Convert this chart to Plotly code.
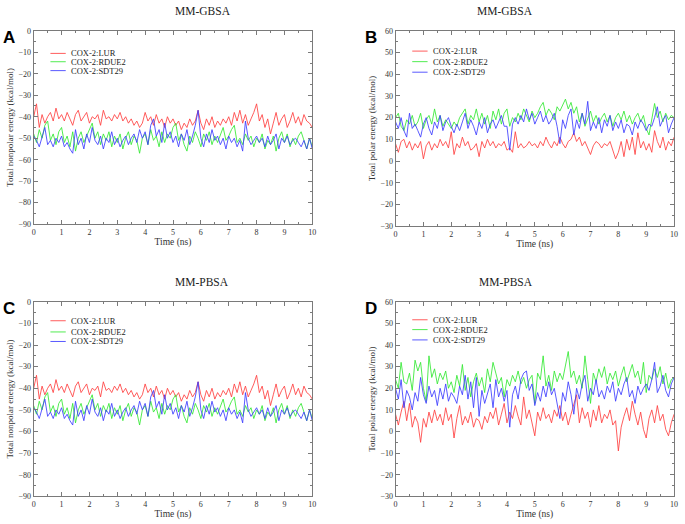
import numpy as np
import plotly.graph_objects as go

# time axis, ns (sampled every 0.1 ns)
time_ns = [round(i * 0.1, 1) for i in range(101)]

series_names = ["COX-2:LUR", "COX-2:RDUE2", "COX-2:SDT29"]
series_colors = ["#ff4040", "#33e833", "#3c3cff"]

# nonpolar energy (same for MM-GBSA and MM-PBSA)
nonpolar_lur = [-40, -34, -45, -39, -43, -40, -38, -42, -36, -41, -39, -42, -38, -41, -44, -39, -37, -42, -40, -38,
                -43, -40, -41, -39, -44, -37, -41, -40, -42, -39, -41, -38, -42, -40, -43, -41, -44, -42, -45, -43,
                -38, -42, -40, -44, -39, -43, -41, -45, -40, -43, -41, -44, -42, -46, -43, -45, -41, -44, -42, -37,
                -43, -46, -41, -44, -40, -45, -42, -44, -41, -43, -40, -44, -38, -42, -37, -43, -39, -44, -41, -38,
                -34, -42, -39, -45, -41, -48, -43, -38, -44, -41, -39, -45, -42, -38, -43, -40, -44, -39, -42, -43, -45]
nonpolar_rdue2 = [-48, -52, -46, -50, -44, -42, -51, -48, -53, -47, -45, -52, -49, -54, -47, -56, -50, -47, -52, -49,
                  -46, -43, -50, -47, -53, -48, -51, -47, -54, -49, -52, -48, -55, -50, -47, -53, -49, -51, -57, -50,
                  -48, -53, -46, -51, -49, -54, -47, -52, -48, -50, -45, -43, -51, -48, -53, -56, -49, -52, -47, -50,
                  -54, -48, -51, -47, -53, -49, -52, -48, -45, -51, -49, -46, -44, -52, -50, -53, -48, -51, -49, -54,
                  -50, -52, -48, -55, -51, -53, -49, -56, -50, -47, -52, -48, -54, -50, -53, -49, -47, -51, -55, -50, -54]
nonpolar_sdt29 = [-49, -51, -54, -50, -45, -53, -51, -54, -50, -52, -49, -54, -52, -55, -57, -46, -53, -50, -55, -48,
                  -52, -45, -51, -53, -49, -55, -50, -52, -47, -53, -50, -54, -51, -49, -53, -50, -48, -52, -46, -50,
                  -47, -53, -44, -41, -49, -46, -52, -43, -50, -47, -52, -49, -54, -48, -51, -46, -53, -49, -44, -37,
                  -50, -54, -48, -52, -46, -51, -49, -53, -50, -55, -49, -52, -50, -54, -51, -56, -42, -50, -53, -51,
                  -49, -52, -50, -54, -49, -53, -51, -48, -55, -50, -52, -49, -53, -51, -50, -52, -54, -51, -55, -50, -55]

# polar energy, MM-GBSA
gb_polar_lur = [8, 4, 9, 10, 6, 9, 5, 8, 6, 9, 1, 7, 9, 5, 8, 6, 10, 7, 9, 6,
                13.5, 3, 8, 6, 11, 7, 9, 5, 6, 8, 2, 9, 6, 10, 7, 9, 6, 8, 7, 9,
                5, 6, 4, 13.5, 6, 8, 6, 7, 9, 7, 8, 6, 9, 7, 11, 8, 6, 9, 7, 11,
                8, 6, 9, 10, 13, 9, 11, 7, 9, 6, 3, 7, 9, 8, 6, 8, 7, 9, 5, 1,
                4, 9, 2, 10, 5, 11, 3, 13, 6, 9, 5, 8, 4, 14, 9, 6, 11, 5, 9, 7, 11]
gb_polar_rdue2 = [20, 22, 16, 14, 19, 17, 21, 16, 18, 22, 15, 19, 21, 17, 24, 18, 21, 16, 19, 17,
                  15, 18, 16, 20, 22, 24, 17, 21, 19, 24, 18, 22, 17, 21, 15, 23, 19, 24, 17, 22,
                  24, 16, 20, 18, 22, 19, 24, 21, 18, 23, 20, 22, 25, 27, 21, 24, 22, 19, 25, 23,
                  26, 28.5, 24, 27, 22, 25, 18, 22, 16, 20, 23, 18, 21, 17, 20, 22, 18, 21, 16, 20,
                  22, 19, 23, 18, 21, 17, 20, 22, 18, 21, 15, 12, 19, 26.5, 20, 23, 18, 22, 19, 21, 20]
gb_polar_sdt29 = [18, 15, 20, 14, 11, 22, 15, 17, 14, 11, 17, 20, 15, 12, 18, 15, 21, 14, 18, 20,
                  16, 13, 17, 14, 18, 22, 15, 19, 16, 12, 18, 15, 20, 13, 17, 19, 15, 18, 21, 16,
                  16, 5, 17, 20, 17, 21, 18, 24, 19, 22, 17, 20, 23, 18, 21, 17, 19, 22, 16, 8,
                  19, 15, 21, 24, 12, 19, 15, 22, 17, 27.5, 14, 18, 15, 20, 13, 19, 16, 21, 14, 18,
                  15, 19, 13, 17, 16, 12, 18, 15, 19, 17, 14, 17, 16, 20, 25, 16, 19, 21, 13, 17, 20]

# polar energy, MM-PBSA
pb_polar_lur = [8, 3, 9, 14, 5, 13, 2, 7, 4, -5, 6, 2, 9, 4, 10, 5, 8, 3, 11, 5,
                8, -3, 6, 12, 3, 7, 4, 9, 2, 6, 5, 1, 7, 4, 9, 6, 11, 3, 8, 13,
                4, 9, 6, 12, 7, 3, 16, 6, 10, 4, -2, 9, 5, 11, 6, 8, 4, 10, 7, 12,
                5, 9, 3, 8, 12, 17, 4, 11, 6, 9, 2, 10, 5, 12, 4, 8, 6, 10, 3, 5,
                -9, 2, 7, 11, 5, 14, 8, 3, 9, 1, -3, 6, 10, 4, 12, 5, 8, 1, -2, 4, 8]
pb_polar_rdue2 = [24, 20, 32, 23, 22, 27, 19, 33, 28, 32, 20, 14, 35, 25, 29, 22, 27, 24, 28, 20,
                  23, 18, 26, 21, 31, 19, 25, 16, 23, 27, 21, 25, 18, 29, 23, 32, 27, 22, 25, 16,
                  24, 21, 26, 23, 28, 22, 25, 20, 24, 26, 13, 27, 24, 35, 21, 26, 19, 28, 23, 27,
                  24, 31, 37, 25, 28, 22, 26, 20, 35, 24, 13, 27, 23, 29, 25, 30, 22, 27, 24, 28,
                  21, 26, 30, 23, 27, 31, 25, 28, 22, 32, 18, 26, 24, 29, 25, 30, 22, 27, 20, 24, 25]
pb_polar_sdt29 = [20, 15, 24, 11, 19, 16, 10, 18, 14, 25, 17, 13, 21, 16, 19, 12, 20, 15, 22, 14,
                  18, 16, 13, 21, 17, 26, 15, 23, 11, 25, 7, 19, 13, 18, 22, 11, 24, 16, 20, 14,
                  19, 2, 17, 21, 15, 24, 27, 28, 19, 22, 12, 18, 14, 21, 16, 23, 17, 20, 13, 6,
                  18, 14, 23, 17, 8, 20, 15, 22, 26, 14, 20, 17, 24, 16, 19, 15, 21, 18, 23, 14,
                  20, 17, 22, 25, 16, 19, 13, 21, 17, 20, 22, 19, 24, 32, 18, 21, 26, 19, 16, 22, 25]

panels = [
    # letter, title, y-title, y-range, data, x-domain, y-domain, legend rows (domain y)
    ("A", "MM-GBSA", "Total nonpolar energy (kcal/mol)", [-90, 0],
     [nonpolar_lur, nonpolar_rdue2, nonpolar_sdt29],
     [0.0467, 0.457], [0.5725, 0.948], [0.883, 0.84, 0.794]),
    ("B", "MM-GBSA", "Total polar energy (kcal/mol)", [-30, 60],
     [gb_polar_lur, gb_polar_rdue2, gb_polar_sdt29],
     [0.5796, 0.9898], [0.5687, 0.948], [0.896, 0.842, 0.788]),
    ("C", "MM-PBSA", "Total nonpolar energy (kcal/mol)", [-90, 0],
     [nonpolar_lur, nonpolar_rdue2, nonpolar_sdt29],
     [0.0467, 0.457], [0.0439, 0.4218], [0.9025, 0.845, 0.796]),
    ("D", "MM-PBSA", "Total polar energy (kcal/mol)", [-30, 60],
     [pb_polar_lur, pb_polar_rdue2, pb_polar_sdt29],
     [0.5796, 0.9898], [0.0439, 0.4218], [0.9075, 0.857, 0.804]),
]

serif = "Liberation Serif, Times New Roman, serif"
fig = go.Figure()
annotations = []
shapes = []

for i, (letter, title, ytitle, yrange, data, xdom, ydom, rows) in enumerate(panels):
    n = "" if i == 0 else str(i + 1)
    xa, ya = "x" + n, "y" + n
    for name, color, vals in zip(series_names, series_colors, data):
        fig.add_trace(go.Scatter(x=time_ns, y=vals, mode="lines", name=name,
                                 line=dict(color=color, width=0.85),
                                 xaxis=xa, yaxis=ya, showlegend=False))

    axis_common = dict(showline=True, linecolor="#7a7a7a", linewidth=1, mirror="allticks",
                       ticks="inside", ticklen=4, tickcolor="#7a7a7a", showgrid=False, zeroline=False,
                       tickfont=dict(family=serif, size=8, color="#333333"))
    fig.update_layout({
        "xaxis" + n: dict(axis_common, domain=xdom, range=[0, 10], dtick=1, anchor=ya,
                          minor=dict(ticks="inside", ticklen=2, dtick=0.5, tickcolor="#7a7a7a"),
                          title=dict(text="Time (ns)", font=dict(family=serif, size=9.5, color="#333333"),
                                     standoff=1)),
        "yaxis" + n: dict(axis_common, domain=ydom, range=yrange, dtick=10, anchor=xa,
                          minor=dict(ticks="inside", ticklen=2, dtick=5, tickcolor="#7a7a7a"),
                          title=dict(text=ytitle, font=dict(family=serif, size=9, color="#333333"),
                                     standoff=3)),
    })

    # panel title and letter
    annotations.append(dict(text=title, x=(xdom[0] + xdom[1]) / 2, y=ydom[1] + 0.0386,
                            xref="paper", yref="paper", showarrow=False, yanchor="middle",
                            font=dict(family=serif, size=11.5, color="#222222")))
    annotations.append(dict(text="<b>" + letter + "</b>", x=xdom[0] - 0.036, y=ydom[1] - 0.013,
                            xref="paper", yref="paper", showarrow=False, xanchor="center", yanchor="middle",
                            font=dict(family="Liberation Sans, Arial, sans-serif", size=17, color="#000")))

    # in-plot legend
    for name, color, ry in zip(series_names, series_colors, rows):
        shapes.append(dict(type="line", xref=xa + " domain", yref=ya + " domain",
                           x0=0.06, x1=0.115, y0=ry, y1=ry, line=dict(color=color, width=0.85)))
        annotations.append(dict(text=name, xref=xa + " domain", yref=ya + " domain",
                                x=0.128, y=ry, xanchor="left", yanchor="middle", showarrow=False,
                                font=dict(family=serif, size=8.5, color="#222222")))

fig.update_layout(
    width=685, height=524,
    margin=dict(l=0, r=0, t=0, b=0),
    paper_bgcolor="white", plot_bgcolor="white",
    showlegend=False,
    annotations=annotations,
    shapes=shapes,
)

fig.write_html("out.html", config={"displayModeBar": False},
               post_script="document.body.style.margin='0';")
